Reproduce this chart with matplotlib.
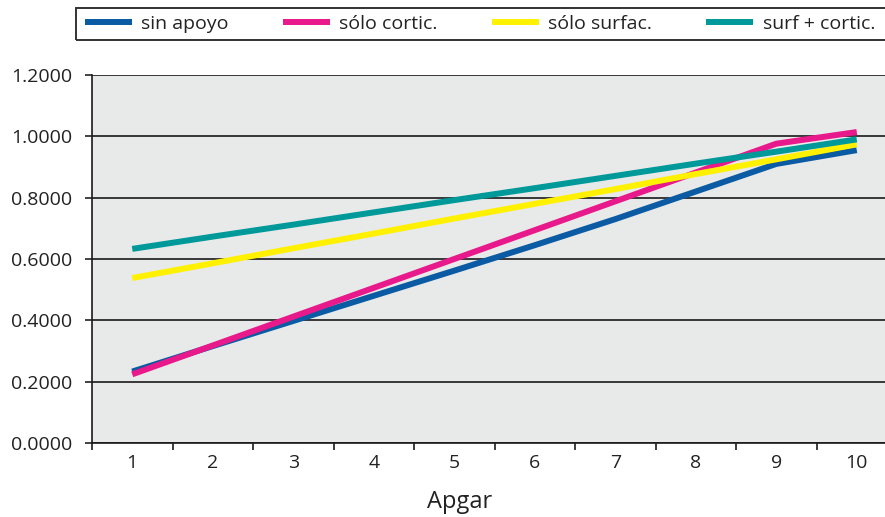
import matplotlib.pyplot as plt
from matplotlib.patches import Rectangle
from matplotlib.ticker import FixedLocator, FormatStrFormatter

plt.rcParams['font.family'] = ['Open Sans', 'DejaVu Sans']

apgar = [1, 2, 3, 4, 5, 6, 7, 8, 9, 10]
sin_apoyo = [0.233, 0.316, 0.398, 0.480, 0.562, 0.645, 0.730, 0.820, 0.910, 0.955]
solo_cortic = [0.224, 0.318, 0.412, 0.506, 0.600, 0.694, 0.788, 0.882, 0.976, 1.014]
solo_surfac = [0.538, 0.586, 0.635, 0.683, 0.732, 0.780, 0.828, 0.877, 0.925, 0.974]
surf_cortic = [0.633, 0.673, 0.712, 0.752, 0.792, 0.831, 0.871, 0.911, 0.950, 0.990]

series = [
    ('sin apoyo', sin_apoyo, '#0A5BA3'),
    ('sólo cortic.', solo_cortic, '#E8198B'),
    ('sólo surfac.', solo_surfac, '#FFF100'),
    ('surf + cortic.', surf_cortic, '#009999'),
]

W, H = 885, 517
fig = plt.figure(figsize=(W / 100, H / 100), dpi=100)
ax = fig.add_axes([92 / W, 74 / H, 805 / W, 368 / H])
ax.set_facecolor('#E8E9E9')

for name, vals, col in series:
    ax.plot(apgar, vals, color=col, lw=4.3, label=name, solid_capstyle='butt')

ax.set_xlim(0.5, 10.5)
ax.set_ylim(0, 1.2)
ax.set_yticks([0, 0.2, 0.4, 0.6, 0.8, 1.0, 1.2])
ax.yaxis.set_major_formatter(FormatStrFormatter('%.4f'))
ax.yaxis.grid(True, color='#1a1a1a', lw=1.2)
ax.set_axisbelow(True)

ax.set_xticks(apgar)
ax.xaxis.set_minor_locator(FixedLocator([i + 0.5 for i in range(0, 10)]))
ax.tick_params(axis='x', which='major', length=0, pad=8, labelsize=14, colors='#222222')
ax.tick_params(axis='x', which='minor', length=5, width=1.2, color='#1a1a1a')
ax.tick_params(axis='y', length=5, width=1.2, pad=9, labelsize=14, colors='#222222')

for s in ['right', 'top']:
    ax.spines[s].set_visible(False)
for s in ['left', 'bottom']:
    ax.spines[s].set_color('#1a1a1a')
    ax.spines[s].set_linewidth(1.2)

ax.set_xlabel('Apgar', fontsize=17, color='#222222')
ax.xaxis.set_label_coords(0.457, -0.127)

# legend box runs off the right edge of the figure
fig.patches.append(Rectangle((76 / W, 1 - 40 / H), 830 / W, 32 / H,
                             transform=fig.transFigure, fill=False,
                             edgecolor='#333333', lw=1.4))
leg = fig.legend(loc='center left', bbox_to_anchor=(85 / W, 1 - 40 / H, 790 / W, 32 / H),
                 ncol=4, mode='expand', frameon=False,
                 fontsize=14, handlelength=2.4, handletextpad=0.5,
                 borderaxespad=0, borderpad=0.0)
for t in leg.get_texts():
    t.set_color('#222222')

fig.savefig('out.png', dpi=100)
